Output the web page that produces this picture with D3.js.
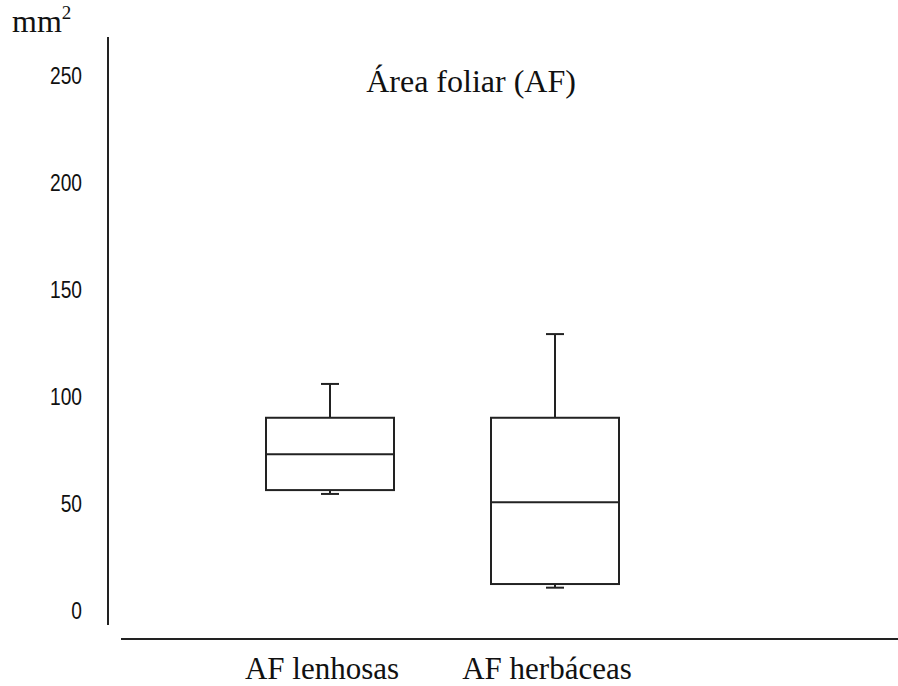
<!DOCTYPE html>
<html>
<head>
<meta charset="utf-8">
<script src="https://cdn.jsdelivr.net/npm/d3@7"></script>
<style>
  body { margin: 0; background: #fff; }
  .tick-label { font-family: "Liberation Sans", Arial, sans-serif; font-size: 24px; fill: #111; }
  .serif { font-family: "Liberation Serif", "Times New Roman", serif; fill: #111; }
</style>
</head>
<body>
<div class="chart"></div>
<script>
var w = 898,
  h = 686;

// data
var categories = ['AF lenhosas', 'AF herbáceas'];
var whiskerLow = [54.7, 10.9];
var q1 = [56.5, 12.6];
var medians = [73.2, 50.8];
var q3 = [90.3, 90.3];
var whiskerHigh = [106.1, 129.4];
var yTicks = [0, 50, 100, 150, 200, 250];

var boxes = categories.map(function (c, i) {
  return { name: c, lo: whiskerLow[i], q1: q1[i], med: medians[i], q3: q3[i], hi: whiskerHigh[i] };
});

var svg = d3.select('.chart')
  .append('svg')
  .attr('width', w)
  .attr('height', h);

// scales
var y = d3.scaleLinear()
  .domain([0, 250])
  .range([611, 76]);

var x = d3.scalePoint()
  .domain(categories)
  .range([330, 555]);

var boxW = 128,
  capW = 18;

// y axis line
svg.append('line')
  .attr('x1', 108).attr('x2', 108)
  .attr('y1', 37).attr('y2', 625)
  .attr('stroke', '#222')
  .attr('stroke-width', 2);

// x axis line
svg.append('line')
  .attr('x1', 121).attr('x2', 898)
  .attr('y1', 639).attr('y2', 639)
  .attr('stroke', '#222')
  .attr('stroke-width', 2);

// tick labels (no tick marks in the original), narrow sans
svg.selectAll('text.tick-label')
  .data(yTicks)
  .enter()
  .append('text')
  .attr('class', 'tick-label')
  .attr('transform', function (d) { return 'translate(82,' + y(d) + ') scale(0.8,1)'; })
  .attr('dy', '0.35em')
  .attr('text-anchor', 'end')
  .text(function (d) { return d; });

// unit label
var unit = svg.append('text')
  .attr('class', 'serif')
  .attr('x', 12)
  .attr('y', 32)
  .attr('font-size', '32px');
unit.append('tspan').text('mm');
unit.append('tspan')
  .attr('font-size', '19px')
  .attr('dy', '-13')
  .text('2');

// title
svg.append('text')
  .attr('class', 'serif')
  .attr('x', 471)
  .attr('y', 92)
  .attr('text-anchor', 'middle')
  .attr('font-size', '32px')
  .text('Área foliar (AF)');

// category labels
svg.selectAll('text.cat')
  .data(categories)
  .enter()
  .append('text')
  .attr('class', 'serif cat')
  .attr('x', function (d) { return x(d) - 8; })
  .attr('y', 679)
  .attr('text-anchor', 'middle')
  .attr('font-size', '31px')
  .text(function (d) { return d; });

// boxes
var g = svg.selectAll('g.box')
  .data(boxes)
  .enter()
  .append('g')
  .attr('class', 'box')
  .attr('stroke', '#222')
  .attr('stroke-width', 2)
  .attr('fill', 'none');

// whiskers
g.append('line')
  .attr('x1', function (d) { return x(d.name); })
  .attr('x2', function (d) { return x(d.name); })
  .attr('y1', function (d) { return y(d.hi); })
  .attr('y2', function (d) { return y(d.q3); });
g.append('line')
  .attr('x1', function (d) { return x(d.name); })
  .attr('x2', function (d) { return x(d.name); })
  .attr('y1', function (d) { return y(d.q1); })
  .attr('y2', function (d) { return y(d.lo); });

// caps
['hi', 'lo'].forEach(function (k) {
  g.append('line')
    .attr('x1', function (d) { return x(d.name) - capW / 2; })
    .attr('x2', function (d) { return x(d.name) + capW / 2; })
    .attr('y1', function (d) { return y(d[k]); })
    .attr('y2', function (d) { return y(d[k]); });
});

// box
g.append('rect')
  .attr('x', function (d) { return x(d.name) - boxW / 2; })
  .attr('y', function (d) { return y(d.q3); })
  .attr('width', boxW)
  .attr('height', function (d) { return y(d.q1) - y(d.q3); })
  .attr('fill', '#fff');

// median
g.append('line')
  .attr('x1', function (d) { return x(d.name) - boxW / 2; })
  .attr('x2', function (d) { return x(d.name) + boxW / 2; })
  .attr('y1', function (d) { return y(d.med); })
  .attr('y2', function (d) { return y(d.med); });
</script>
</body>
</html>
